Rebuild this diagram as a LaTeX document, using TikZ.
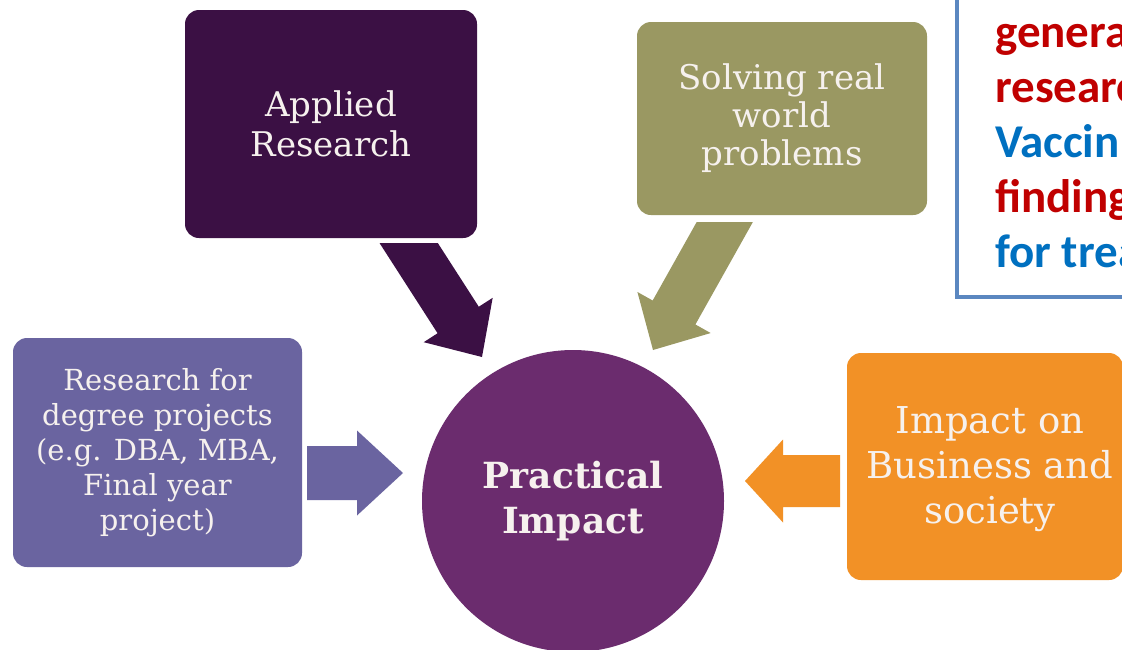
\documentclass[tikz,border=0pt]{standalone}
\usepackage{fontspec}
\setmainfont{DejaVu Serif}
\newfontfamily\calib{Carlito}
\definecolor{applc}{HTML}{3B1044}
\definecolor{solvc}{HTML}{9A9862}
\definecolor{resc}{HTML}{6A64A0}
\definecolor{circc}{HTML}{6B2C6E}
\definecolor{orgc}{HTML}{F29126}
\definecolor{bordc}{HTML}{5B87C0}
\definecolor{redt}{HTML}{C00000}
\definecolor{bluet}{HTML}{0070C0}
\definecolor{txtw}{HTML}{F6F1EE}
\newcommand{\blockarrow}[6]{%
  \path (#1); \pgfgetlastxy{\baXa}{\baYa}%
  \path (#2); \pgfgetlastxy{\baXb}{\baYb}%
  \pgfmathsetmacro{\baAng}{atan2(\baYb-\baYa,\baXb-\baXa)}%
  \pgfmathsetmacro{\baLen}{veclen(\baXb-\baXa,\baYb-\baYa)}%
  \fill[#3, shift={(\baXa,\baYa)}, rotate=\baAng]
    ({0pt},{-0.5*#4pt}) -- ({\baLen*1pt-#6pt},{-0.5*#4pt}) --
    ({\baLen*1pt-#6pt},{-0.5*#5pt}) -- ({\baLen*1pt},{0pt}) --
    ({\baLen*1pt-#6pt},{0.5*#5pt}) -- ({\baLen*1pt-#6pt},{0.5*#4pt}) --
    ({0pt},{0.5*#4pt}) -- cycle;}
\tikzset{
  box/.style={rounded corners=14pt, inner sep=0pt, align=center, text=txtw},
  notetext/.style={anchor=base west, inner sep=0pt, font=\calib\bfseries\fontsize{47}{55}\selectfont},
}
\begin{document}
\begin{tikzpicture}[x=1pt,y=-1pt]
\useasboundingbox (0,0) rectangle (1122,649);
\clip (0,0) rectangle (1122,649);
\fill[white] (0,0) rectangle (1122,649);
% arrow coordinates
\coordinate (a1s) at (390,214);
\coordinate (a1e) at (482,357);
\coordinate (a2s) at (736,202);
\coordinate (a2e) at (653,350);
\coordinate (a3s) at (307,473);
\coordinate (a3e) at (403,473);
\coordinate (a4s) at (840,481);
\coordinate (a4e) at (745,481);
\begin{scope}
  \clip (0,243) rectangle (640,649);
  \blockarrow{a1s}{a1e}{applc}{49}{82}{44}
\end{scope}
\begin{scope}
  \clip (560,222) rectangle (1122,649);
  \blockarrow{a2s}{a2e}{solvc}{49}{84}{43}
\end{scope}
\blockarrow{a3s}{a3e}{resc}{54}{85}{46}
\blockarrow{a4s}{a4e}{orgc}{52}{83}{38}
% boxes
\node[box, fill=applc, minimum width=292pt, minimum height=228pt,
      font=\fontsize{34}{40}\selectfont] (applied) at (331,124) {Applied\\Research};
\node[box, fill=solvc, minimum width=290pt, minimum height=193pt,
      font=\fontsize{34}{38}\selectfont] (solving) at (782,118.5) {Solving real\\world\\problems};
\node[box, fill=resc, minimum width=289pt, minimum height=229pt,
      font=\fontsize{29}{35}\selectfont] (degree) at (157.5,452.5) {Research for\\degree projects\\(e.g. DBA, MBA,\\Final year\\project)};
\node[box, fill=orgc, minimum width=276pt, minimum height=227pt] (impact) at (985,466.5) {};
\node[align=center, inner sep=0pt, text=txtw, font=\fontsize{37}{45}\selectfont] (impacttext) at (990,469) {Impact on\\Business and\\society};
\node[circle, fill=circc, minimum size=302pt, inner sep=0pt, align=center, text=txtw,
      font=\bfseries\fontsize{36}{45}\selectfont] (practical) at (573,501) {Practical\\Impact};
% note box
\draw[line width=4pt, bordc] (957,-20) rectangle (1160,297);
\node[notetext, text=redt] (n1) at (995,47) {genera};
\node[notetext, text=redt] (n2) at (995,102) {researc};
\node[notetext, text=bluet] (n3) at (995,157) {Vaccin};
\node[notetext, text=redt] (n4) at (995,212) {finding};
\node[notetext, text=bluet] (n5) at (995,267) {for trea};
\end{tikzpicture}
\end{document}
